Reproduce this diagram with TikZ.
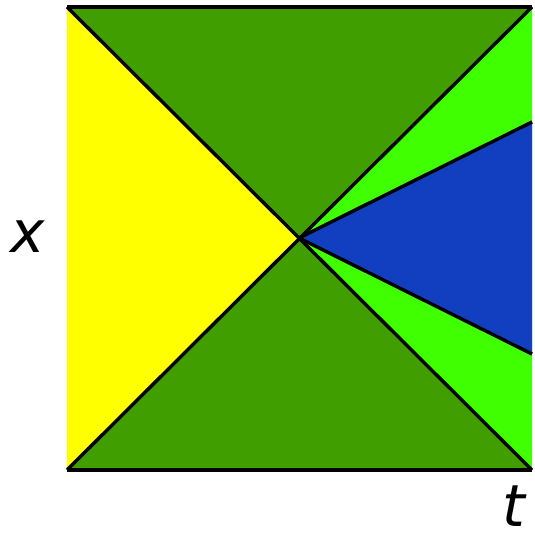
\documentclass[tikz,border=0pt]{standalone}
\usepackage{fontspec}
\newfontfamily\labelfont{DejaVu Sans}
\usetikzlibrary{positioning}
\definecolor{pureyellow}{RGB}{255,255,0}
\definecolor{darkgreen}{RGB}{64,158,0}
\definecolor{lightgreen}{RGB}{64,255,0}
\definecolor{wedgeblue}{RGB}{18,62,192}

\begin{document}
\begin{tikzpicture}[x=0.5pt, y=0.5pt, line width=1.7pt,
    axislabel/.style={inner sep=0pt, text depth=0pt, anchor=base,
      font=\labelfont\itshape\fontsize{29}{30}\selectfont}]
    \useasboundingbox (0,0) rectangle (535,535);
    % Corners and centre of the square
    \coordinate (tl) at (67,528);
    \coordinate (bl) at (67,65);
    \coordinate (tr) at (532,528);
    \coordinate (br) at (532,65);
    \coordinate (c) at (299,297);
    \coordinate (w1) at (532,413);
    \coordinate (w2) at (532,181);

    % Regions
    \fill[pureyellow] (tl) -- (c) -- (bl) -- cycle;
    \fill[darkgreen] (tl) -- (tr) -- (c) -- cycle;
    \fill[darkgreen] (bl) -- (br) -- (c) -- cycle;
    \fill[lightgreen] (tr) -- (br) -- (c) -- cycle;
    \fill[wedgeblue] (c) -- (w1) -- (w2) -- cycle;

    % Boundaries
    \draw (tl) -- (tr);
    \draw (bl) -- (br);
    \draw (tl) -- (br);
    \draw (bl) -- (tr);
    \draw (c) -- (w1);
    \draw (c) -- (w2);

    % Axis labels
    \node[axislabel] (xlab) at (28,282) {x};
    \node[axislabel] (tlab) at (514,9) {t};
\end{tikzpicture}
\end{document}
